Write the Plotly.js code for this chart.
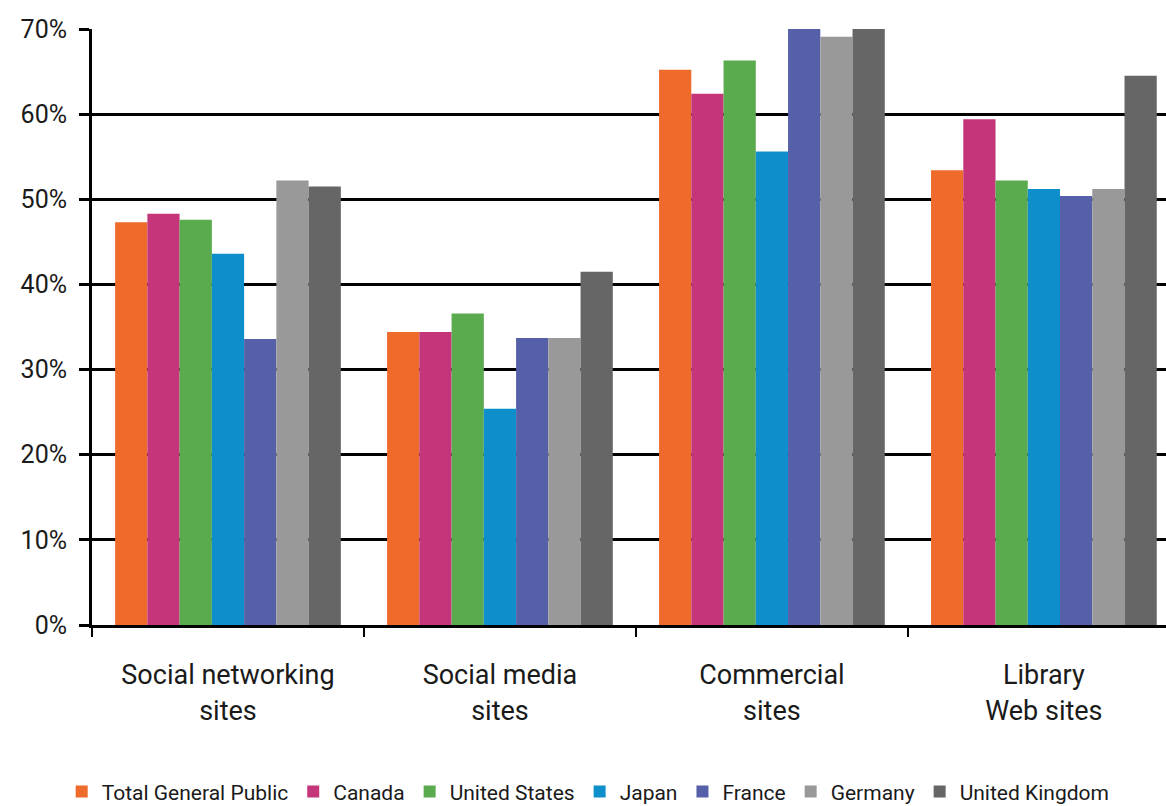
<!DOCTYPE html>
<html>
<head>
<meta charset="utf-8">
<script src="https://cdn.plot.ly/plotly-3.0.1.min.js"></script>
<style>
html,body{margin:0;padding:0;background:#fff;}
#chart{width:1166px;height:806px;}
</style>
</head>
<body>
<div id="chart"></div>
<script>
const categories = ["Social networking<br>sites", "Social media<br>sites", "Commercial<br>sites", "Library<br>Web sites"];
const seriesNames = ["Total General Public", "Canada", "United States", "Japan", "France", "Germany", "United Kingdom"];
const totalGeneralPublic = [47.3, 34.4, 65.2, 53.4];
const canada = [48.3, 34.4, 62.4, 59.4];
const unitedStates = [47.6, 36.6, 66.3, 52.2];
const japan = [43.6, 25.4, 55.6, 51.2];
const france = [33.6, 33.7, 72, 50.4];
const germany = [52.2, 33.7, 69.1, 51.2];
const unitedKingdom = [51.5, 41.5, 73, 64.5];
const colors = ["#EE6B2B", "#C4357A", "#5AAA4E", "#0E8FCB", "#5660A8", "#999999", "#666666"];

const values = [totalGeneralPublic, canada, unitedStates, japan, france, germany, unitedKingdom];
const traces = values.map((v, i) => ({
  type: "bar",
  name: seriesNames[i],
  x: categories,
  y: v,
  marker: {color: colors[i], line: {width: 0}},
  hoverinfo: "none"
}));

const fontFam = "Roboto, 'Liberation Sans', sans-serif";
const layout = {
  width: 1166, height: 806,
  margin: {l: 92, r: 0, t: 29, b: 181, autoexpand: false},
  paper_bgcolor: "#fff", plot_bgcolor: "#fff",
  barmode: "group",
  bargap: 0.17, bargroupgap: 0,
  font: {family: fontFam, color: "#1a1a1a"},
  xaxis: {
    type: "category",
    range: [-0.5, 3.449],
    showline: true, linecolor: "#000", linewidth: 3,
    ticks: "outside", tickson: "boundaries", ticklen: 9, tickwidth: 2, tickcolor: "#000",
    tickfont: {size: 27, family: fontFam, color: "#1a1a1a"},
    ticklabelstandoff: 24,
    showgrid: false,
    automargin: false,
    fixedrange: true
  },
  yaxis: {
    range: [0, 70],
    tickvals: [0, 10, 20, 30, 40, 50, 60, 70],
    ticktext: ["0%", "10%", "20%", "30%", "40%", "50%", "60%", "70%"],
    showline: true, linecolor: "#000", linewidth: 3,
    ticks: "outside", ticklen: 10, tickwidth: 3, tickcolor: "#000",
    showgrid: true, gridcolor: "#000", gridwidth: 3,
    zeroline: false,
    tickfont: {size: 25, family: fontFam, color: "#1a1a1a"},
    ticklabelstandoff: 7,
    automargin: false,
    fixedrange: true
  },
  showlegend: true,
  legend: {
    orientation: "h",
    x: 0.462, xanchor: "center",
    y: -0.28, yanchor: "middle",
    font: {size: 21, family: fontFam, color: "#1a1a1a"},
    itemwidth: 30,
    tracegroupgap: 0,
    traceorder: "normal"
  }
};

Plotly.newPlot("chart", traces, layout, {displayModeBar: false, staticPlot: true});
</script>
</body>
</html>
